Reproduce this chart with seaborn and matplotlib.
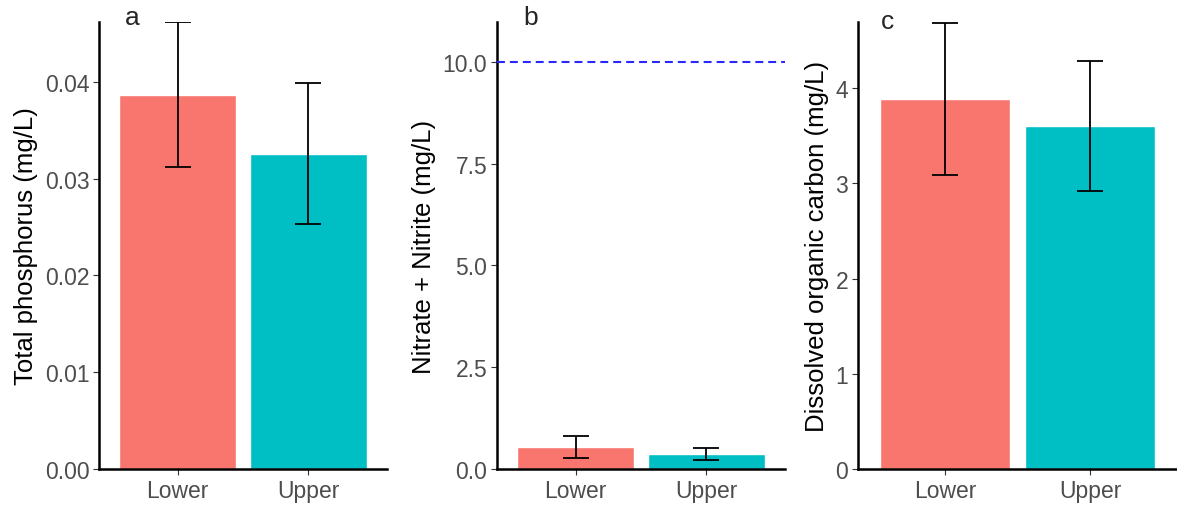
import numpy as np
import pandas as pd
import matplotlib
matplotlib.use("Agg")
import matplotlib.pyplot as plt
import seaborn as sns

sns.set_style("white")
plt.rcParams["font.family"] = ["Liberation Sans", "DejaVu Sans"]

# ─── Data ──────────────────────────────────────────────────────────────────
sites = ["Lower", "Upper"]
site_colors = ["#F8766D", "#00BFC4"]

tp_mean = [0.0387, 0.0326]
tp_err = [0.0075, 0.0073]

nn_mean = [0.54, 0.37]
nn_err = [0.27, 0.15]

doc_mean = [3.885, 3.60]
doc_err = [0.80, 0.68]

panels = [
    ("a", "Total phosphorus (mg/L)", tp_mean, tp_err, 0.0462, [0, 0.01, 0.02, 0.03, 0.04], "{:.2f}"),
    ("b", "Nitrate + Nitrite (mg/L)", nn_mean, nn_err, 10.98, [0, 2.5, 5.0, 7.5, 10.0], "{:.1f}"),
    ("c", "Dissolved organic carbon (mg/L)", doc_mean, doc_err, 4.693, [0, 1, 2, 3, 4], "{:.0f}"),
]
nitrate_limit = 10.0

# ─── Layout (fractions of the 1177x506 canvas) ─────────────────────────────
W, H = 1177, 506
axes_px = [(99, 288), (497, 288), (858, 319)]
y_bottom, y_top = 470, 23
letter_px = [(132, 18), (531, 18), (887, 22)]

fig = plt.figure(figsize=(W / 100, H / 100), dpi=100)

for (letter, ylabel, means, errs, ymax, ticks, fmt), (x0, w), (lx, ly) in zip(panels, axes_px, letter_px):
    ax = fig.add_axes([x0 / W, 1 - y_bottom / H, w / W, (y_bottom - y_top) / H])
    df = pd.DataFrame({"site": sites, "value": means})
    sns.barplot(data=df, x="site", y="value", hue="site", palette=site_colors,
                width=0.9, errorbar=None, legend=False, ax=ax, saturation=1)
    ax.errorbar(range(len(sites)), means, yerr=errs, fmt="none", ecolor="black",
                elinewidth=1.3, capsize=9.5, capthick=1.3, zorder=5)
    if letter == "b":
        ax.axhline(nitrate_limit, color="#2929FF", linestyle=(0, (3.8, 2.4)), linewidth=1.5, zorder=4)

    ax.set_xlim(-0.6, 1.6)
    ax.set_ylim(0, ymax)
    ax.set_yticks(ticks)
    ax.set_yticklabels([fmt.format(t) for t in ticks])
    ax.set_xlabel("")
    ax.set_ylabel(ylabel, fontsize=18.5, color="black", labelpad=5)

    for side in ["top", "right"]:
        ax.spines[side].set_visible(False)
    for side in ["left", "bottom"]:
        ax.spines[side].set_color("black")
        ax.spines[side].set_linewidth(1.8)
    ax.tick_params(axis="both", direction="out", length=4, width=0.8, color="#333333",
                   labelcolor="#4D4D4D", labelsize=16.5, pad=3, left=True, bottom=True)
    ax.grid(False)

    fig.text(lx / W, 1 - ly / H, letter, fontsize=19, ha="center", va="center")

fig.savefig("out.png", dpi=100)
